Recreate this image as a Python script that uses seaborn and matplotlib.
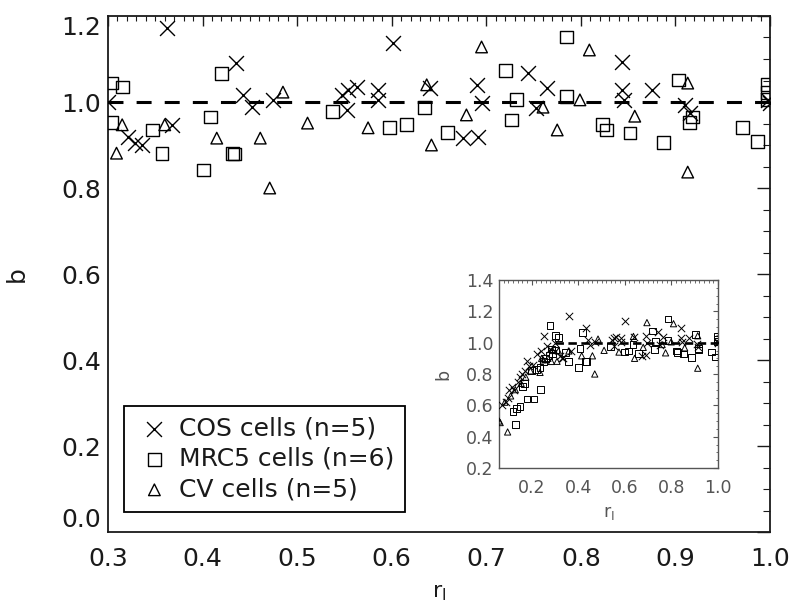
import numpy as np
import pandas as pd
import matplotlib
matplotlib.use("Agg")
import matplotlib.pyplot as plt
import seaborn as sns
from matplotlib.ticker import FixedLocator, MultipleLocator, FormatStrFormatter

# ---------------- data ----------------
cos_r = [0.075, 0.09, 0.10, 0.105, 0.115, 0.125, 0.14, 0.15, 0.16, 0.17, 0.18, 0.19, 0.205,
         0.225, 0.24, 0.252, 0.265, 0.28,
         0.300, 0.321, 0.329, 0.336, 0.362, 0.368, 0.435, 0.443, 0.452, 0.474, 0.547, 0.554,
         0.563, 0.553, 0.585, 0.585, 0.601, 0.640, 0.675, 0.690, 0.691, 0.695, 0.744, 0.753,
         0.764, 0.843, 0.843, 0.846, 0.875, 0.910, 0.915, 0.998, 1.000]
cos_b = [0.60, 0.62, 0.65, 0.70, 0.72, 0.70, 0.75, 0.78, 0.80, 0.82, 0.88, 0.85, 0.86,
         0.93, 0.95, 1.04, 0.98, 0.96,
         1.000, 0.918, 0.905, 0.900, 1.172, 0.947, 1.091, 1.016, 0.988, 1.005, 1.016, 1.028,
         1.035, 0.981, 1.028, 1.005, 1.137, 1.033, 0.916, 1.040, 0.919, 0.998, 1.067, 0.986,
         1.033, 1.093, 1.028, 1.005, 1.028, 0.993, 0.975, 1.005, 0.998]

mrc5_r = [0.13, 0.12, 0.135, 0.15, 0.16, 0.17, 0.18, 0.21, 0.238, 0.20, 0.22, 0.236, 0.25,
          0.26, 0.279, 0.275, 0.29, 0.285,
          0.304, 0.315, 0.304, 0.347, 0.357, 0.420, 0.408, 0.401, 0.432, 0.434, 0.537, 0.598,
          0.616, 0.635, 0.659, 0.720, 0.732, 0.727, 0.785, 0.785, 0.823, 0.827, 0.852, 0.887,
          0.903, 0.918, 0.915, 0.971, 0.987, 0.997, 0.997, 0.997]
mrc5_b = [0.48, 0.56, 0.58, 0.59, 0.72, 0.74, 0.64, 0.64, 0.70, 0.82, 0.83, 0.84, 0.88,
          0.90, 1.11, 0.92, 0.93, 0.96,
          1.044, 1.035, 0.953, 0.935, 0.881, 1.067, 0.965, 0.842, 0.881, 0.879, 0.977, 0.940,
          0.947, 0.988, 0.930, 1.074, 1.005, 0.958, 1.151, 1.012, 0.947, 0.935, 0.928, 0.905,
          1.051, 0.965, 0.953, 0.940, 0.909, 1.040, 1.023, 1.005]

cv_r = [0.06, 0.065, 0.097, 0.085, 0.11, 0.13, 0.155, 0.175, 0.195, 0.236, 0.243, 0.25,
        0.27, 0.285, 0.29,
        0.315, 0.309, 0.360, 0.415, 0.461, 0.471, 0.485, 0.511, 0.575, 0.637, 0.642, 0.695,
        0.679, 0.760, 0.775, 0.799, 0.809, 0.857, 0.913, 0.913]
cv_b = [0.50, 0.49, 0.43, 0.62, 0.66, 0.70, 0.74, 0.78, 0.82, 0.81, 0.90, 0.89,
        0.90, 0.88, 0.95,
        0.947, 0.881, 0.947, 0.916, 0.916, 0.800, 1.023, 0.951, 0.940, 1.040, 0.900, 1.128,
        0.970, 0.988, 0.935, 1.005, 1.121, 0.967, 1.044, 0.837]

labels = ["COS cells (n=5)", "MRC5 cells (n=6)", "CV cells (n=5)"]
x_ticks = [0.3, 0.4, 0.5, 0.6, 0.7, 0.8, 0.9, 1.0]
y_ticks = [0.0, 0.2, 0.4, 0.6, 0.8, 1.0, 1.2]
inset_x_ticks = [0.2, 0.4, 0.6, 0.8, 1.0]
inset_y_ticks = [0.2, 0.4, 0.6, 0.8, 1.0, 1.2, 1.4]
ref_b = 1.0
ref_r_min = 0.3

df_cos = pd.DataFrame({"r": cos_r, "b": cos_b})
df_mrc = pd.DataFrame({"r": mrc5_r, "b": mrc5_b})
df_cv = pd.DataFrame({"r": cv_r, "b": cv_b})

# ---------------- style ----------------
sns.set_style("white")
plt.rcParams["font.family"] = ["DejaVu Sans"]
plt.rcParams["mathtext.default"] = "regular"

W, H = 792, 604
fig = plt.figure(figsize=(W / 100, H / 100), dpi=100)
ax = fig.add_axes([108 / W, (H - 532) / H, 662 / W, 516 / H])

main_txt = "#1a1a1a"


def draw(axis, s_x, s_sq, s_tri, lw, with_label):
    kw = dict(ax=axis, x="r", y="b", legend=False)
    sns.scatterplot(data=df_cos, marker="x", s=s_x, color="black", linewidth=lw,
                    label=labels[0] if with_label else None, zorder=3, **kw)
    sns.scatterplot(data=df_mrc, marker="s", s=s_sq, facecolor="none", edgecolor="black",
                    linewidth=lw, label=labels[1] if with_label else None, zorder=3, **kw)
    sns.scatterplot(data=df_cv, marker="^", s=s_tri, facecolor="none", edgecolor="black",
                    linewidth=lw, label=labels[2] if with_label else None, zorder=3, **kw)


draw(ax, 115, 85, 70, 1.0, True)
ax.axhline(ref_b, color="black", lw=2.2, dashes=(4.9, 4.3), zorder=2)

ax.set_xlim(0.3, 1.0)
ax.set_ylim(0.0, 1.2)
ax.xaxis.set_major_locator(FixedLocator(x_ticks))
ax.xaxis.set_minor_locator(MultipleLocator(0.01))
ax.yaxis.set_major_locator(FixedLocator(y_ticks))
ax.yaxis.set_minor_locator(MultipleLocator(0.05))
ax.xaxis.set_major_formatter(FormatStrFormatter("%.1f"))
ax.yaxis.set_major_formatter(FormatStrFormatter("%.1f"))
ax.tick_params(which="both", direction="in", top=True, right=True, colors="#1a1a1a")
ax.tick_params(axis="x", which="major", length=7.2, width=1.0, pad=11, labelsize=18)
ax.tick_params(axis="x", which="minor", length=3.6, width=0.8)
ax.tick_params(axis="y", which="major", length=9.4, width=1.0, pad=5, labelsize=18)
ax.tick_params(axis="y", which="minor", length=4.7, width=0.8)
for sp in ax.spines.values():
    sp.set_linewidth(1.3)
    sp.set_color("#1a1a1a")

fig.canvas.draw()
ylabs = ax.get_yticklabels()
ylabs[0].set_va("bottom")
ylabs[-1].set_va("top")

ax.set_xlabel(r"r$_{\rm I}$", fontsize=16, color=main_txt)
ax.set_ylabel("b", fontsize=18, color=main_txt)
ax.xaxis.set_label_coords(0.5, -0.098)
ax.yaxis.set_label_coords(-0.12, 0.5)

leg = ax.legend(loc="lower left", bbox_to_anchor=(0.024, 0.039), borderaxespad=0,
                fontsize=18, frameon=True, fancybox=False, edgecolor="black",
                framealpha=1, borderpad=0.42, labelspacing=0.26, handlelength=1.6,
                handletextpad=0.2, scatterpoints=1)
leg.get_frame().set_linewidth(1.3)
for t in leg.get_texts():
    t.set_color(main_txt)

# ---------------- inset ----------------
inset_col = "#555555"
axi = fig.add_axes([499 / W, (H - 468) / H, 219 / W, 188 / H])
draw(axi, 28, 24, 20, 0.7, False)
axi.hlines(ref_b, ref_r_min, 1.0, color="black", lw=1.9, linestyles=(0, (3.2, 1.7)), zorder=2)
axi.set_xlim(0.06, 1.0)
axi.set_ylim(0.2, 1.4)
axi.xaxis.set_major_locator(FixedLocator(inset_x_ticks))
axi.xaxis.set_minor_locator(MultipleLocator(0.02))
axi.yaxis.set_major_locator(FixedLocator(inset_y_ticks))
axi.yaxis.set_minor_locator(MultipleLocator(0.05))
axi.xaxis.set_major_formatter(FormatStrFormatter("%.1f"))
axi.yaxis.set_major_formatter(FormatStrFormatter("%.1f"))
axi.tick_params(which="both", direction="in", top=True, right=True, colors=inset_col,
                labelsize=12.5)
axi.tick_params(which="major", length=3.5, width=0.8)
axi.tick_params(which="minor", length=1.8, width=0.6)
axi.tick_params(axis="x", pad=8)
axi.tick_params(axis="y", pad=4)
for sp in axi.spines.values():
    sp.set_linewidth(1.0)
    sp.set_color(inset_col)
axi.set_xlabel(r"r$_{\rm I}$", fontsize=12.5, color=inset_col)
axi.set_ylabel("b", fontsize=12.5, color=inset_col)
axi.xaxis.set_label_coords(0.5, -0.19)
axi.yaxis.set_label_coords(-0.215, 0.5)

fig.savefig("out.png", dpi=100, facecolor="white")
